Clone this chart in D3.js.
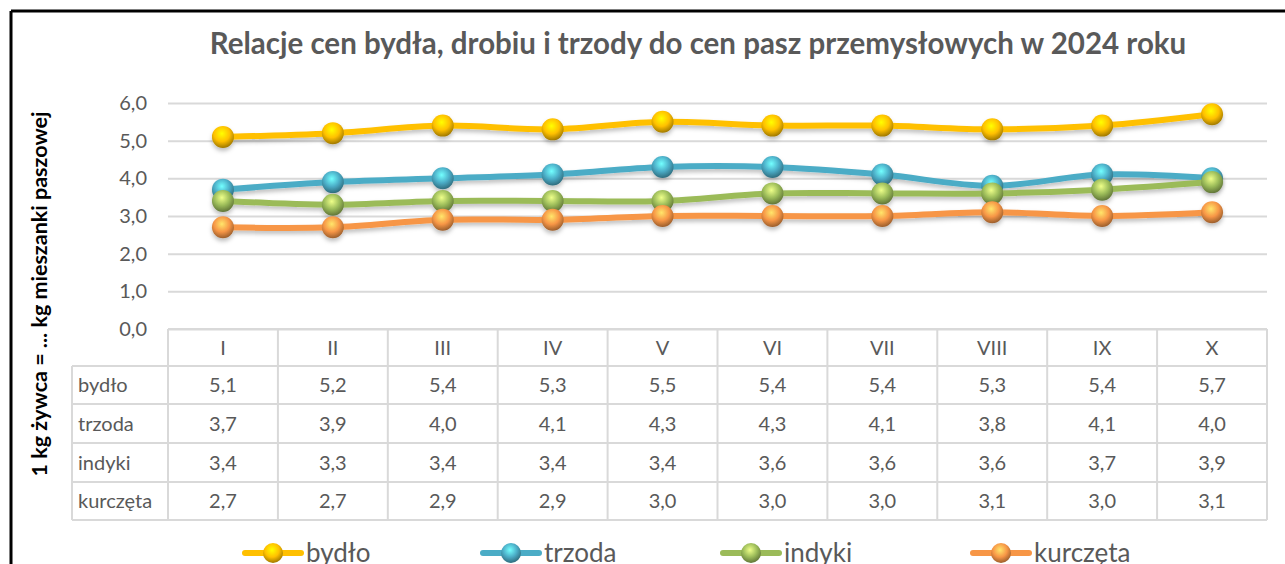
<!DOCTYPE html>
<html>
<head>
<meta charset="utf-8">
<script src="https://cdn.jsdelivr.net/npm/d3@7"></script>
<style>
  body { margin: 0; background: #fff; }
  text { font-family: Lato, "Open Sans", sans-serif; }
</style>
</head>
<body>
<div id="chart"></div>
<script>
let months = ["I", "II", "III", "IV", "V", "VI", "VII", "VIII", "IX", "X"];
let seriesNames = ["bydło", "trzoda", "indyki", "kurczęta"];
let bydlo = [5.1, 5.2, 5.4, 5.3, 5.5, 5.4, 5.4, 5.3, 5.4, 5.7];
let trzoda = [3.7, 3.9, 4.0, 4.1, 4.3, 4.3, 4.1, 3.8, 4.1, 4.0];
let indyki = [3.4, 3.3, 3.4, 3.4, 3.4, 3.6, 3.6, 3.6, 3.7, 3.9];
let kurczeta = [2.7, 2.7, 2.9, 2.9, 3.0, 3.0, 3.0, 3.1, 3.0, 3.1];
let yTicks = [0, 1, 2, 3, 4, 5, 6];

let colors = ["#FFC000", "#4BACC6", "#9BBB59", "#F79646"];
let series = [bydlo, trzoda, indyki, kurczeta].map(function (vals, i) {
  return { name: seriesNames[i], values: vals, color: colors[i] };
});

let width = 1285;
let height = 564;
let plotLeft = 168;
let plotRight = 1267;
let plotTop = 103;
let plotBottom = 329;
let rowH = [37, 38, 39, 39, 38];
let labelColX = 72;

let svg = d3.select("#chart").append("svg")
  .attr("width", width)
  .attr("height", height);

let defs = svg.append("defs");
series.forEach(function (s, i) {
  let g = defs.append("radialGradient")
    .attr("id", "ball" + i)
    .attr("cx", "45%").attr("cy", "35%").attr("r", "65%");
  g.append("stop").attr("offset", "0%").attr("stop-color", d3.color(s.color).brighter(1.2));
  g.append("stop").attr("offset", "55%").attr("stop-color", s.color);
  g.append("stop").attr("offset", "100%").attr("stop-color", d3.color(s.color).darker(1.3));
});
let shadow = defs.append("filter").attr("id", "shadow")
  .attr("x", "-20%").attr("y", "-50%").attr("width", "140%").attr("height", "200%");
shadow.append("feDropShadow")
  .attr("dx", 0).attr("dy", 3).attr("stdDeviation", 2)
  .attr("flood-color", "#000").attr("flood-opacity", 0.25);

// frame
svg.append("line").attr("x1", 11).attr("x2", width).attr("y1", 11).attr("y2", 11)
  .attr("stroke", "#000").attr("stroke-width", 3);
svg.append("line").attr("x1", 11).attr("x2", 11).attr("y1", 11).attr("y2", height)
  .attr("stroke", "#000").attr("stroke-width", 3);

svg.append("text")
  .attr("x", 698).attr("y", 54)
  .attr("text-anchor", "middle")
  .attr("font-size", 29.5).attr("font-weight", "bold")
  .attr("fill", "#595959")
  .text("Relacje cen bydła, drobiu i trzody do cen pasz przemysłowych w 2024 roku");

svg.append("text")
  .attr("transform", "translate(47,294) rotate(-90)")
  .attr("text-anchor", "middle")
  .attr("font-size", 21.5).attr("font-weight", "bold")
  .attr("fill", "#000")
  .text("1 kg żywca = ... kg mieszanki paszowej");

let x = d3.scaleBand().domain(months).range([plotLeft, plotRight]);
let y = d3.scaleLinear().domain([0, 6]).range([plotBottom, plotTop]);
let fmt = function (v) { return d3.format(".1f")(v).replace(".", ","); };

// gridlines and y axis
let yAxis = d3.axisLeft(y).tickValues(yTicks).tickSize(-(plotRight - plotLeft)).tickFormat(fmt);
let yg = svg.append("g").attr("transform", "translate(" + plotLeft + ",0)").call(yAxis);
yg.select(".domain").remove();
yg.selectAll(".tick line").attr("stroke", "#d9d9d9").attr("stroke-width", 2);
yg.selectAll(".tick text")
  .attr("x", -21).attr("font-size", 20).attr("fill", "#595959")
  .attr("font-family", "Lato, sans-serif");

// data table
let rowTops = [plotBottom];
rowH.forEach(function (h) { rowTops.push(rowTops[rowTops.length - 1] + h); });
let table = svg.append("g");
let gridColor = "#d9d9d9";
for (let r = 0; r <= rowH.length; r++) {
  let x0 = r === 0 ? plotLeft : labelColX;
  table.append("line").attr("x1", x0).attr("x2", plotRight)
    .attr("y1", rowTops[r]).attr("y2", rowTops[r])
    .attr("stroke", gridColor).attr("stroke-width", 2);
}
table.append("line").attr("x1", labelColX).attr("x2", labelColX)
  .attr("y1", rowTops[1]).attr("y2", rowTops[rowH.length])
  .attr("stroke", gridColor).attr("stroke-width", 2);
months.concat(["end"]).forEach(function (m, i) {
  let xx = i < months.length ? x(m) : plotRight;
  table.append("line").attr("x1", xx).attr("x2", xx)
    .attr("y1", rowTops[0]).attr("y2", rowTops[rowH.length])
    .attr("stroke", gridColor).attr("stroke-width", 2);
});
table.selectAll(".month").data(months).enter().append("text")
  .attr("x", function (d) { return x(d) + x.bandwidth() / 2; })
  .attr("y", (rowTops[0] + rowTops[1]) / 2 + 7)
  .attr("text-anchor", "middle").attr("font-size", 20).attr("fill", "#595959")
  .text(function (d) { return d; });
series.forEach(function (s, i) {
  let cy = (rowTops[i + 1] + rowTops[i + 2]) / 2 + 7;
  table.append("text").attr("x", labelColX + 6).attr("y", cy)
    .attr("font-size", 20).attr("fill", "#595959").text(s.name);
  table.selectAll(".v" + i).data(s.values).enter().append("text")
    .attr("x", function (d, j) { return x(months[j]) + x.bandwidth() / 2; })
    .attr("y", cy)
    .attr("text-anchor", "middle").attr("font-size", 20).attr("fill", "#595959")
    .text(function (d) { return fmt(d); });
});

// lines and markers
let line = d3.line()
  .x(function (d, j) { return x(months[j]) + x.bandwidth() / 2; })
  .y(function (d) { return y(d); })
  .curve(d3.curveCatmullRom.alpha(0.5));

series.forEach(function (s, i) {
  let g = svg.append("g").attr("filter", "url(#shadow)");
  g.append("path").datum(s.values)
    .attr("d", line)
    .attr("fill", "none")
    .attr("stroke", s.color)
    .attr("stroke-width", 6)
    .attr("stroke-linecap", "round");
  g.selectAll("circle").data(s.values).enter().append("circle")
    .attr("cx", function (d, j) { return x(months[j]) + x.bandwidth() / 2; })
    .attr("cy", function (d) { return y(d); })
    .attr("r", 11)
    .attr("fill", "url(#ball" + i + ")");
});

// legend
let legendX = [245, 483, 723, 973];
let legend = svg.append("g");
series.forEach(function (s, i) {
  let lg = legend.append("g").attr("transform", "translate(" + legendX[i] + ",553)");
  lg.append("line").attr("x1", 0).attr("x2", 56).attr("y1", 0).attr("y2", 0)
    .attr("stroke", s.color).attr("stroke-width", 6).attr("stroke-linecap", "round");
  lg.append("circle").attr("cx", 28).attr("cy", 0).attr("r", 10)
    .attr("fill", "url(#ball" + i + ")");
  lg.append("text").attr("x", 61).attr("y", 9)
    .attr("font-size", 26).attr("fill", "#595959").text(s.name);
});
</script>
</body>
</html>
